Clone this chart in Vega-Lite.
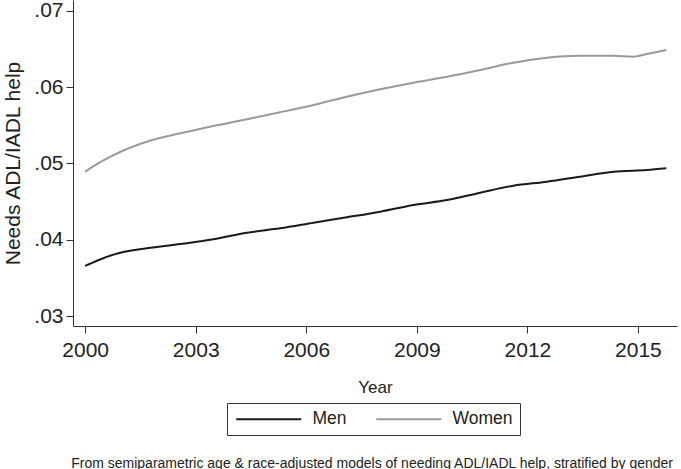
{
  "$schema": "https://vega.github.io/schema/vega-lite/v6.json",
  "width": 604,
  "height": 326,
  "autosize": "none",
  "padding": {"left": 73, "top": 0, "right": 4, "bottom": 143},
  "background": "white",
  "config": {
    "font": "Liberation Sans",
    "view": {"stroke": null},
    "axis": {"grid": false, "domainColor": "#333", "tickColor": "#333", "labelColor": "#222", "titleColor": "#222", "titleFontWeight": "normal", "labelFont": "Liberation Sans", "titleFont": "Liberation Sans"}
  },
  "title": {
    "text": "From semiparametric age & race-adjusted models of needing ADL/IADL help, stratified by gender",
    "orient": "bottom",
    "anchor": "end",
    "fontSize": 14,
    "fontWeight": "normal",
    "color": "#222",
    "font": "Liberation Sans",
    "offset": 21,
    "dx": -4
  },
  "data": {
    "values": [
      {"year": 2000.00, "value": 0.03656, "group": "Men"},
      {"year": 2000.32, "value": 0.03725, "group": "Men"},
      {"year": 2000.77, "value": 0.03805, "group": "Men"},
      {"year": 2001.67, "value": 0.03888, "group": "Men"},
      {"year": 2002.58, "value": 0.03944, "group": "Men"},
      {"year": 2003.48, "value": 0.04006, "group": "Men"},
      {"year": 2004.39, "value": 0.04092, "group": "Men"},
      {"year": 2005.29, "value": 0.04150, "group": "Men"},
      {"year": 2006.20, "value": 0.04223, "group": "Men"},
      {"year": 2007.10, "value": 0.04294, "group": "Men"},
      {"year": 2008.01, "value": 0.04368, "group": "Men"},
      {"year": 2008.91, "value": 0.04456, "group": "Men"},
      {"year": 2009.82, "value": 0.04521, "group": "Men"},
      {"year": 2010.72, "value": 0.04617, "group": "Men"},
      {"year": 2011.62, "value": 0.04709, "group": "Men"},
      {"year": 2012.53, "value": 0.04761, "group": "Men"},
      {"year": 2013.43, "value": 0.04827, "group": "Men"},
      {"year": 2014.34, "value": 0.04892, "group": "Men"},
      {"year": 2015.24, "value": 0.04915, "group": "Men"},
      {"year": 2015.77, "value": 0.04937, "group": "Men"},
      {"year": 2000.00, "value": 0.04892, "group": "Women"},
      {"year": 2000.32, "value": 0.04993, "group": "Women"},
      {"year": 2000.77, "value": 0.05111, "group": "Women"},
      {"year": 2001.67, "value": 0.05286, "group": "Women"},
      {"year": 2002.58, "value": 0.05396, "group": "Women"},
      {"year": 2003.48, "value": 0.05492, "group": "Women"},
      {"year": 2004.39, "value": 0.05580, "group": "Women"},
      {"year": 2005.29, "value": 0.05671, "group": "Women"},
      {"year": 2006.20, "value": 0.05767, "group": "Women"},
      {"year": 2007.10, "value": 0.05876, "group": "Women"},
      {"year": 2008.01, "value": 0.05973, "group": "Women"},
      {"year": 2008.91, "value": 0.06060, "group": "Women"},
      {"year": 2009.82, "value": 0.06138, "group": "Women"},
      {"year": 2010.72, "value": 0.06226, "group": "Women"},
      {"year": 2011.62, "value": 0.06322, "group": "Women"},
      {"year": 2012.53, "value": 0.06388, "group": "Women"},
      {"year": 2013.43, "value": 0.06414, "group": "Women"},
      {"year": 2014.34, "value": 0.06414, "group": "Women"},
      {"year": 2014.88, "value": 0.06401, "group": "Women"},
      {"year": 2015.24, "value": 0.06436, "group": "Women"},
      {"year": 2015.77, "value": 0.06489, "group": "Women"}
    ]
  },
  "mark": {"type": "line", "interpolate": "monotone", "strokeWidth": 2},
  "encoding": {
    "x": {
      "field": "year",
      "type": "quantitative",
      "scale": {"domain": [1999.67, 2016.06], "nice": false, "zero": false},
      "axis": {
        "title": "Year",
        "values": [2000, 2003, 2006, 2009, 2012, 2015],
        "format": "d",
        "labelFontSize": 21,
        "titleFontSize": 17,
        "tickSize": 7,
        "labelPadding": 6,
        "titlePadding": 19,
        "labelFlush": false
      }
    },
    "y": {
      "field": "value",
      "type": "quantitative",
      "scale": {"domain": [0.02869, 0.07144], "nice": false, "zero": false},
      "axis": {
        "title": "Needs ADL/IADL help",
        "values": [0.03, 0.04, 0.05, 0.06, 0.07],
        "labelExpr": "replace(format(datum.value, '.2f'), '0.', '.')",
        "labelFontSize": 21,
        "titleFontSize": 21,
        "tickSize": 7,
        "labelPadding": 3,
        "titlePadding": 10,
        "labelFlush": false
      }
    },
    "color": {
      "field": "group",
      "type": "nominal",
      "scale": {"domain": ["Men", "Women"], "range": ["#1a1a1a", "#9a9a9a"]},
      "legend": {
        "title": null,
        "orient": "none",
        "legendX": 154,
        "legendY": 403,
        "direction": "horizontal",
        "symbolType": "M-5,0H5",
        "symbolSize": 169,
        "symbolOffset": 26,
        "symbolStrokeWidth": 2,
        "labelFontSize": 17.5,
        "labelColor": "#222",
        "labelOffset": 35,
        "columnPadding": 25,
        "padding": 7,
        "strokeColor": "#333"
      }
    }
  }
}
